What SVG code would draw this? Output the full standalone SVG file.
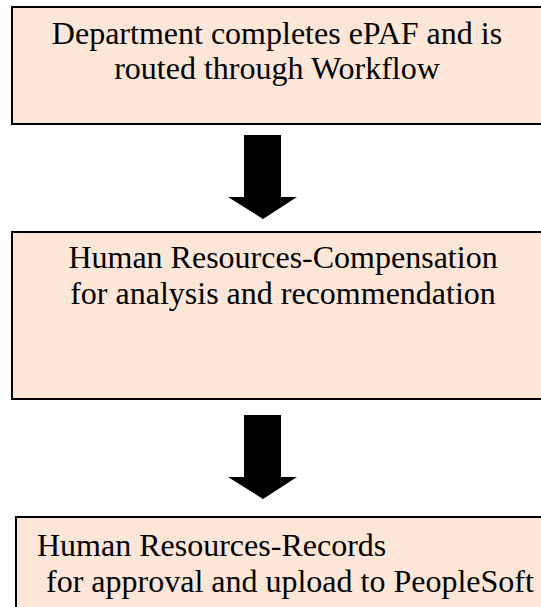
<svg xmlns="http://www.w3.org/2000/svg" width="541" height="607" viewBox="0 0 541 607">
<style>
.box{fill:#FCE6D8;stroke:#000;stroke-width:2}
.t{font-family:"Liberation Serif","Times New Roman",serif;font-size:32px;fill:#000}
.c{text-anchor:middle}
.arrow{fill:#000}
</style>
<rect width="541" height="607" fill="#fff"/>
<g id="node1">
<rect class="box" x="12" y="7" width="540" height="117"/>
<text class="t c" x="277" y="44">Department completes ePAF and is</text>
<text class="t c" x="277" y="79">routed through Workflow</text>
</g>
<g id="node2">
<rect class="box" x="12" y="232" width="540" height="167"/>
<text class="t c" x="283" y="268">Human Resources-Compensation</text>
<text class="t c" x="283" y="304">for analysis and recommendation</text>
</g>
<g id="node3">
<rect class="box" x="16" y="517" width="540" height="100"/>
<text class="t" x="37" y="556">Human Resources-Records</text>
<text class="t" x="46" y="592">for approval and upload to PeopleSoft</text>
</g>
<g id="connectors">
<polygon class="arrow" points="244,135 281,135 281,197 297,197 263,219 228,197 244,197"/>
<polygon class="arrow" points="244,415 281,415 281,477 297,477 263,499 228,477 244,477"/>
</g>
</svg>
